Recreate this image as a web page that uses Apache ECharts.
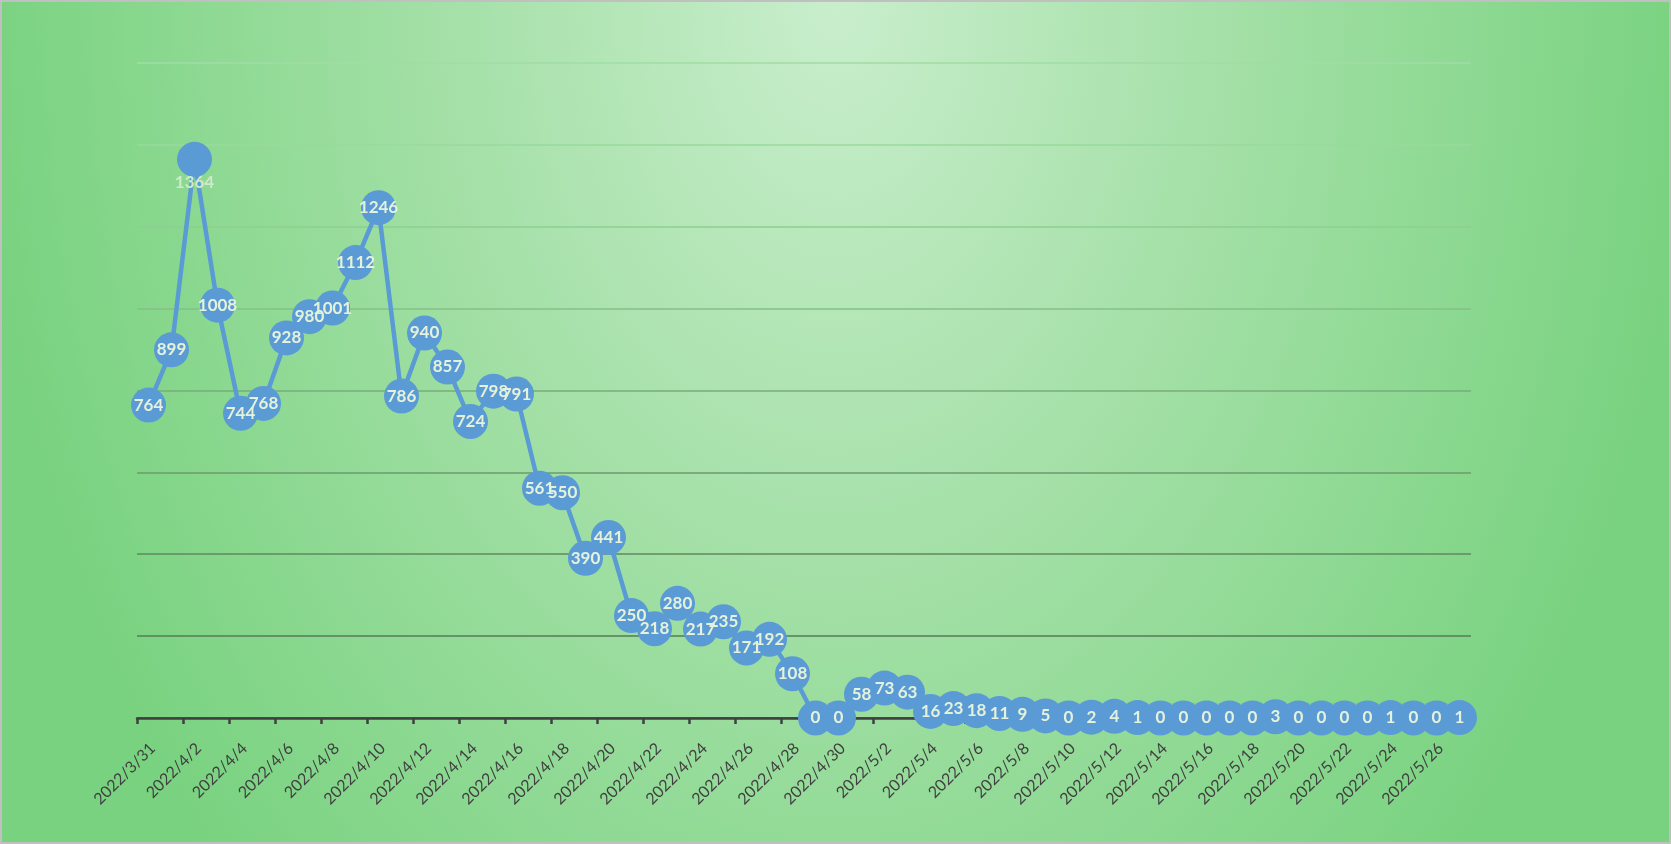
<!DOCTYPE html>
<html>
<head>
<meta charset="utf-8">
<script src="https://cdn.jsdelivr.net/npm/echarts@6/dist/echarts.min.js"></script>
<style>
  html, body { margin: 0; padding: 0; }
  #main {
    width: 1671px; height: 844px;
    box-sizing: border-box;
    border: 2px solid #c0c0c0;
    background: radial-gradient(ellipse 52% 150% at 50% 0%, #c9eecc 0%, #a4e0a7 45%, #78d27f 100%);
  }
</style>
</head>
<body>
<div id="main"></div>
<script>
var dates = ['2022/3/31'];
// april 1..30, may 1..27
for (var d = 1; d <= 30; d++) dates.push('2022/4/' + d);
for (var m = 1; m <= 27; m++) dates.push('2022/5/' + m);

var counts = [764, 899, 1364, 1008, 744, 768, 928, 980, 1001, 1112,
              1246, 786, 940, 857, 724, 798, 791, 561, 550, 390,
              441, 250, 218, 280, 217, 235, 171, 192, 108, 0,
              0, 58, 73, 63, 16, 23, 18, 11, 9, 5,
              0, 2, 4, 1, 0, 0, 0, 0, 0, 3,
              0, 0, 0, 0, 1, 0, 0, 1];

// the peak point has its label underneath, like the source
var peakIndex = 2;

// split line colours from bottom (0) to top (1600)
var gridColors = ['#404040', '#577a59', '#61885f', '#6c9a6e', '#79ad7b',
                  '#85c087', '#8ecf91', '#99da9c', '#a1dda4'];

var seriesData = counts.map(function (v, i) {
  if (i === peakIndex) {
    return {
      value: v,
      label: { position: 'bottom', distance: -3, color: '#cfe9cb' }
    };
  }
  return v;
});

var myChart = echarts.init(document.getElementById('main'));

var option = {
  backgroundColor: 'transparent',
  animation: false,
  grid: {
    left: 135,
    right: 198,
    top: 60.7,
    bottom: 124
  },
  xAxis: {
    type: 'category',
    data: dates,
    boundaryGap: true,
    axisLine: { lineStyle: { color: '#404040', width: 2.5 } },
    axisTick: {
      show: true,
      interval: 1,
      alignWithLabel: false,
      length: 6,
      lineStyle: { color: '#404040', width: 2.5 }
    },
    axisLabel: {
      interval: 1,
      rotate: 45,
      margin: 32,
      padding: [0, -6, 0, 0],
      color: '#404040',
      fontFamily: 'Lato',
      fontSize: 16
    }
  },
  yAxis: {
    type: 'value',
    min: 0,
    max: 1600,
    interval: 200,
    axisLine: { show: false },
    axisTick: { show: false },
    axisLabel: { show: false },
    splitLine: { lineStyle: { color: gridColors, width: 1.5 } }
  },
  series: [
    {
      type: 'line',
      data: seriesData,
      symbol: 'circle',
      symbolSize: 35,
      showAllSymbol: true,
      lineStyle: { color: '#5b9bd5', width: 4.5 },
      itemStyle: { color: '#5b9bd5' },
      label: {
        show: true,
        position: 'inside',
        color: '#e4f2dc',
        fontFamily: 'Lato',
        fontWeight: 'bold',
        fontSize: 17
      },
      labelLayout: { hideOverlap: false },
      z: 5
    }
  ]
};

myChart.setOption(option);
</script>
</body>
</html>
